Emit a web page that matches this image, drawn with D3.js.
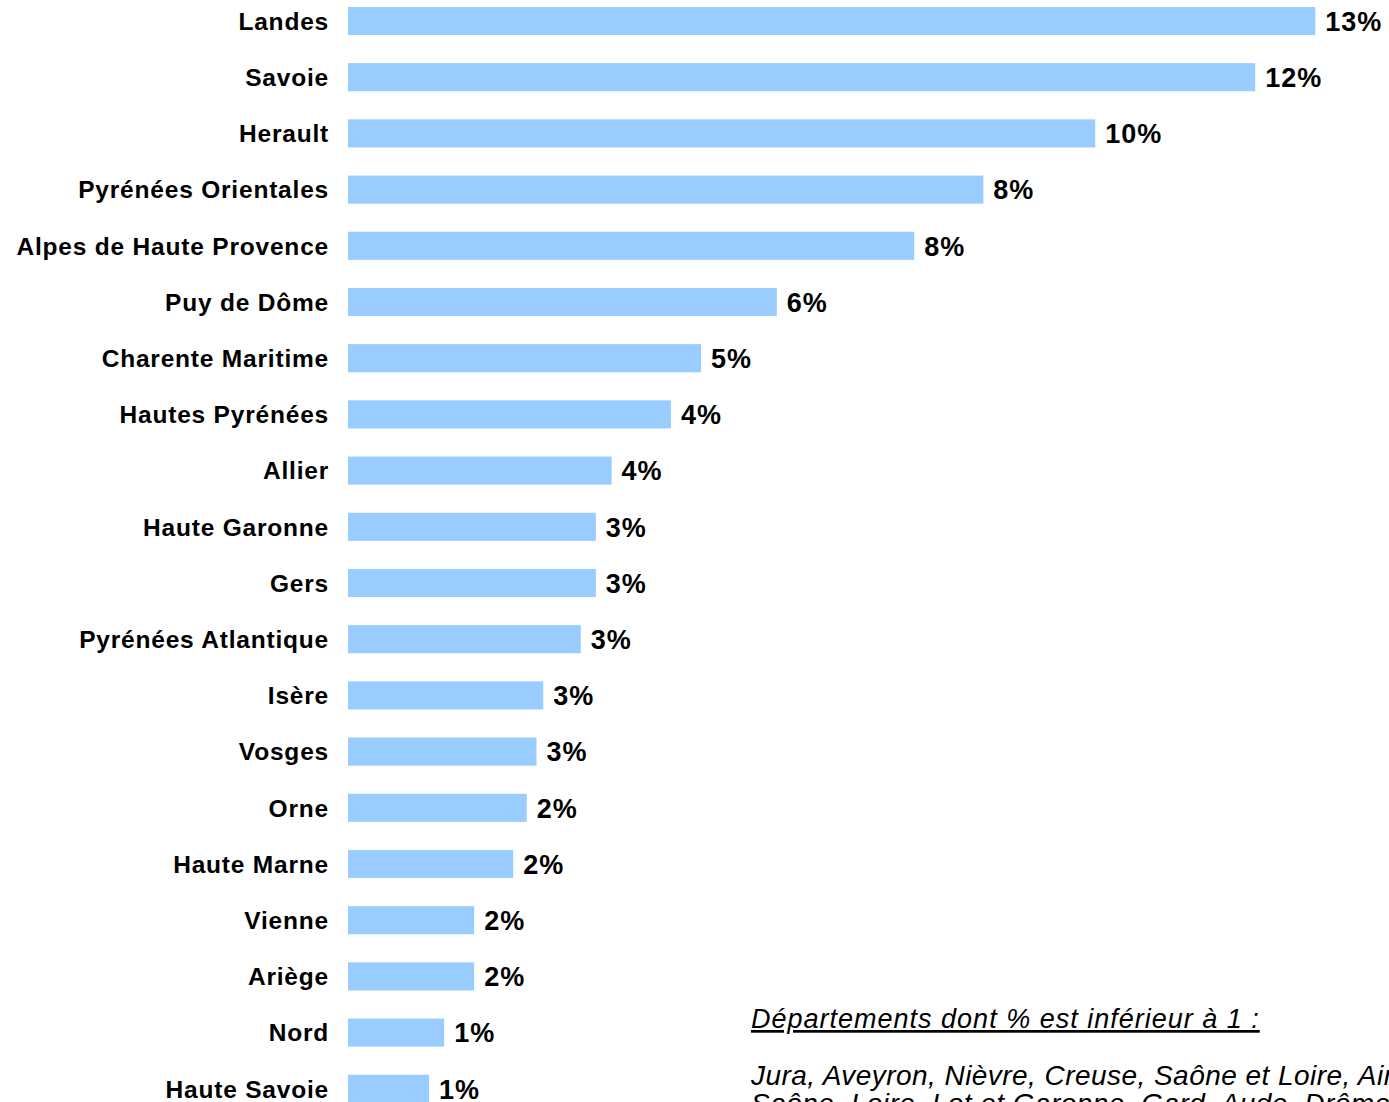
<!DOCTYPE html>
<html>
<head>
<meta charset="utf-8">
<script src="https://cdn.jsdelivr.net/npm/d3@7"></script>
<style>
  html, body { margin: 0; padding: 0; background: #fff; overflow: hidden; }
  svg { display: block; }
</style>
</head>
<body>
<script>
const categories = [
  "Landes", "Savoie", "Herault", "Pyrénées Orientales", "Alpes de Haute Provence",
  "Puy de Dôme", "Charente Maritime", "Hautes Pyrénées", "Allier", "Haute Garonne",
  "Gers", "Pyrénées Atlantique", "Isère", "Vosges", "Orne",
  "Haute Marne", "Vienne", "Ariège", "Nord", "Haute Savoie"
];
const values = [
  12.88, 12.08, 9.95, 8.46, 7.54,
  5.71, 4.70, 4.30, 3.51, 3.30,
  3.30, 3.10, 2.60, 2.51, 2.38,
  2.20, 1.68, 1.68, 1.28, 1.08
];
const valueLabels = [
  "13%", "12%", "10%", "8%", "8%",
  "6%", "5%", "4%", "4%", "3%",
  "3%", "3%", "3%", "3%", "2%",
  "2%", "2%", "2%", "1%", "1%"
];
const noteTitle = "Départements dont % est inférieur à 1 :";
const noteLines = [
  "Jura, Aveyron, Nièvre, Creuse, Saône et Loire, Ain, Haute",
  "Saône, Loire, Lot et Garonne, Gard, Aude, Drôme"
];

const W = 1389, H = 1102;
const svg = d3.select("body").append("svg").attr("width", W).attr("height", H);

const x = d3.scaleLinear().domain([0, 13]).range([348, 348 + 13 * 75.1]);
const y = d3.scaleBand().domain(categories).range([-7.1, -7.1 + 20 * 56.2]).paddingInner(0.5).paddingOuter(0.25);

const data = categories.map((c, i) => ({ c, v: values[i], l: valueLabels[i] }));

svg.append("g").selectAll("rect").data(data).join("rect")
  .attr("x", x(0))
  .attr("y", d => y(d.c))
  .attr("width", d => x(d.v) - x(0))
  .attr("height", y.bandwidth())
  .attr("fill", "#99ccff");

const yAxis = d3.axisLeft(y).tickSize(0).tickPadding(0);
const ag = svg.append("g").attr("transform", `translate(329,0)`).call(yAxis);
ag.select(".domain").remove();
ag.selectAll("text")
  .attr("font-family", "Liberation Sans, Arial, sans-serif")
  .attr("font-weight", "bold")
  .attr("font-size", 24.5)
  .attr("letter-spacing", 0.8)
  .attr("fill", "#000")
  .attr("dy", "0.36em");

svg.append("g").selectAll("text").data(data).join("text")
  .attr("x", d => x(d.v) + 10)
  .attr("y", d => y(d.c) + y.bandwidth() / 2)
  .attr("dy", "0.36em")
  .attr("font-family", "Liberation Sans, Arial, sans-serif")
  .attr("font-weight", "bold")
  .attr("font-size", 27)
  .attr("letter-spacing", 1)
  .attr("fill", "#000")
  .text(d => d.l);

const note = svg.append("g").attr("font-family", "Liberation Sans, Arial, sans-serif")
  .attr("font-style", "italic").attr("fill", "#000");
note.append("text").attr("x", 751).attr("y", 1028)
  .attr("font-size", 27).attr("letter-spacing", 1)
  .attr("text-decoration", "underline").text(noteTitle);
note.selectAll("text.l").data(noteLines).join("text").attr("class", "l")
  .attr("font-size", 28).attr("letter-spacing", 0.45)
  .attr("x", 751).attr("y", (d, i) => 1085 + i * 28).text(d => d);
</script>
</body>
</html>
